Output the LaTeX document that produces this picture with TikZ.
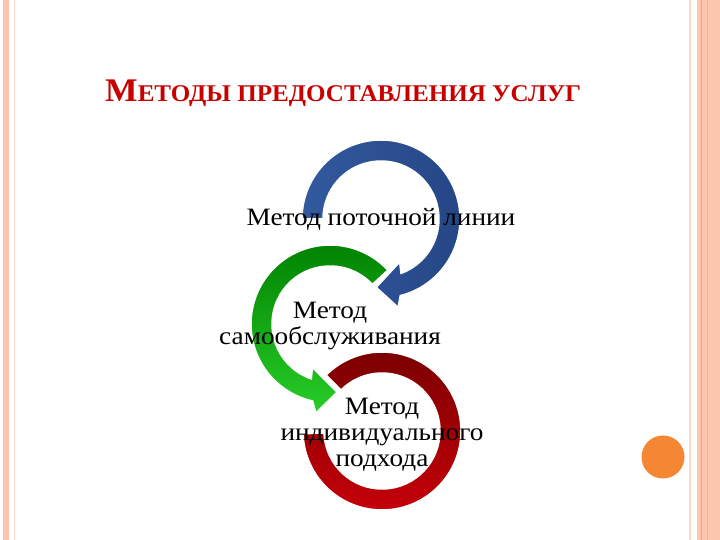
\documentclass[tikz,border=0pt]{standalone}
\usepackage{fontspec}
\usetikzlibrary{calc}
\setmainfont{Liberation Serif}
\newfontfamily\lblfont[FakeStretch=1.09]{Liberation Serif}
\newfontfamily\ttlfont[FakeStretch=1.045]{Liberation Serif}
\definecolor{peach}{RGB}{251,197,174}
\definecolor{peachdark}{RGB}{242,160,128}
\definecolor{peachpale}{RGB}{248,218,200}
\definecolor{titlered}{RGB}{200,0,0}
\definecolor{blueA}{RGB}{50,90,158}
\definecolor{blueB}{RGB}{38,70,134}
\definecolor{greenA}{RGB}{0,128,0}
\definecolor{greenB}{RGB}{40,205,40}
\definecolor{redA}{RGB}{120,0,0}
\definecolor{redB}{RGB}{200,0,10}
\definecolor{orangedot}{RGB}{245,134,52}
\tikzset{
  ring/.style={draw=white, line width=1.5pt},
  lbl/.style={align=center, font=\lblfont\fontsize{25}{26}\selectfont, text=black, inner sep=0pt}
}
\begin{document}
\begin{tikzpicture}[x=1pt,y=1pt]
\useasboundingbox (0,0) rectangle (720,540);
\fill[white] (0,0) rectangle (720,540);
% borders
\fill[peach] (3,0) rectangle (9,540);
\draw[peachpale, line width=0.8pt] (14,0) -- (14,540);
\draw[peachpale, line width=1.5pt] (690,0) -- (690,540);
\fill[peach] (697,0) rectangle (720,540);
\draw[peachdark, line width=1.2pt] (701.5,0) -- (701.5,540);
\draw[peachdark!60!peach, line width=0.8pt] (707,0) -- (707,540);
% orange dot
\fill[orangedot] (663,83) circle (21.5);
% title
\node[anchor=base west, inner sep=0pt, text=titlered, font=\ttlfont\bfseries] (title) at (105,438)
  {\fontsize{33}{33}\selectfont М\fontsize{24}{24}\selectfont ЕТОДЫ ПРЕДОСТАВЛЕНИЯ УСЛУГ};
% centers
\coordinate (cb) at (381,321);
\coordinate (cg) at (330,216);
\coordinate (cr) at (382,109);
% red ring
\shade[ring, top color=redA, bottom color=redB]
  ($(cr)+(135:79)$) arc[start angle=135, end angle=-178, radius=79]
  -- ($(cr)+(-178:58)$) arc[start angle=-178, end angle=135, radius=58] -- cycle;
% green arrow
\shade[ring, top color=greenA, bottom color=greenB]
  ($(cg)+(43:79)$) arc[start angle=43, end angle=257.3, radius=79]
  -- ($(cg)+(261:90)$) -- ($(cg)+(276:68.5)$) -- ($(cg)+(248:47)$)
  -- ($(cg)+(251.2:58)$) arc[start angle=251.2, end angle=43, radius=58] -- cycle;
% blue arrow
\shade[ring, left color=blueA, right color=blueB]
  ($(cb)+(180:79)$) arc[start angle=180, end angle=-75.9, radius=79]
  -- ($(cb)+(-79:90)$) -- ($(cb)+(-94:68.5)$) -- ($(cb)+(-66.6:47)$)
  -- ($(cb)+(-69.8:58)$) arc[start angle=-69.8, end angle=180, radius=58] -- cycle;
% labels
\node[lbl] (lb) at (381,321) {Метод поточной линии};
\node[lbl] (lg) at (330,214) {Метод\\самообслуживания};
\node[lbl] (lr) at (382,105) {Метод\\индивидуального\\подхода};
\end{tikzpicture}
\end{document}
